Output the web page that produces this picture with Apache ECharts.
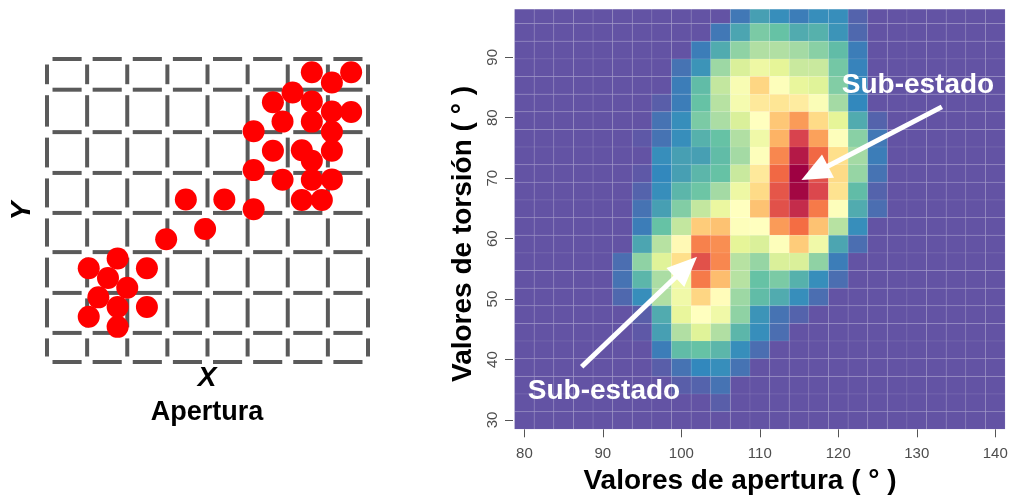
<!DOCTYPE html>
<html><head><meta charset="utf-8">
<script src="https://cdn.jsdelivr.net/npm/echarts@6/dist/echarts.min.js"></script>
<style>html,body{margin:0;padding:0;background:#fff}#c{width:1011px;height:500px}</style>
</head><body><div id="c"></div>
<script>
// ---------- Left panel: schematic scatter ----------
const dotX = [6.60,7.58,7.10,6.12,5.63,6.60,7.58,7.10,5.87,6.60,7.10,5.15,5.63,6.35,7.10,6.60,5.15,5.87,6.60,7.10,6.35,6.85,3.46,4.42,5.15,
              3.94,2.97,1.76,1.04,2.49,1.52,2.00,1.28,1.76,2.49,1.04,1.76];
const dotY = [7.17,7.17,6.92,6.67,6.43,6.45,6.19,6.20,5.95,5.95,5.70,5.71,5.23,5.24,5.23,4.98,4.75,4.51,4.51,4.52,4.01,4.01,4.02,4.02,3.78,
              3.29,3.04,2.56,2.32,2.32,2.08,1.84,1.60,1.36,1.36,1.12,0.87];
const gridXs = [0,1,2,3,4,5,6,7,8];
const gridYs = [0,0.72,1.71,2.72,3.69,4.68,5.69,6.74,7.5];

// ---------- Right panel: 2D histogram (apertura x torsión) ----------
const xBinStart = 78.75, xBinWidth = 2.5;
const yBinStart = 28.46, yBinHeight = 2.918;
const xTicks = [80,90,100,110,120,130,140];
const yTicks = [30,40,50,60,70,80,90];
// rows listed from top (highest torsión) to bottom; 25 columns each
const heatRows = [
 [0,0,0,0,0, 0,0,0,0,0,0,0.7,1.4,1.1,0.8,1.1,1.1,0.3,0, 0,0,0,0,0,0],
 [0,0,0,0,0, 0,0,0,0,0,0.7,1.5,2.3,2.0,1.6,1.7,1.2,0.4,0, 0,0,0,0,0,0],
 [0,0,0,0,0, 0,0,0,0,0.8,1.6,2.6,3.1,3.1,2.9,2.5,1.9,0.8,0, 0,0,0,0,0,0],
 [0,0,0,0,0, 0,0,0,0.6,1.2,2.8,3.8,4.3,4.0,3.5,3.5,2.2,0.9,0, 0,0,0,0,0,0],
 [0,0,0,0,0, 0,0,0,0.8,1.9,3.4,4.7,6.2,4.9,4.1,3.9,2.4,1.0,0, 0,0,0,0,0,0],
 [0,0,0,0,0, 0,0,0.2,0.8,2.0,3.2,4.6,5.7,5.8,5.6,4.8,2.9,1.0,0, 0,0,0,0,0,0],
 [0,0,0,0,0, 0,0,0.6,1.1,2.3,3.0,3.8,5.0,6.5,7.3,6.1,4.0,1.6,0.3, 0,0,0,0,0,0],
 [0,0,0,0,0, 0,0.1,0.6,1.1,1.7,2.0,3.1,4.4,6.9,8.9,7.2,4.9,2.5,0.7, 0,0,0,0,0,0],
 [0,0,0,0,0, 0,0,1.1,1.4,1.4,1.9,2.9,4.9,7.6,9.6,8.1,6.0,2.9,0.8, 0,0,0,0,0,0],
 [0,0,0,0,0, 0,0.1,1.0,1.4,1.8,2.0,3.5,5.7,8.1,10,8.6,6.1,2.7,0.6, 0,0,0,0,0,0],
 [0,0,0,0,0, 0,0.3,1.1,1.8,2.1,2.9,4.3,6.1,8.5,9.9,8.8,5.9,1.9,0.3, 0,0,0,0,0,0],
 [0,0,0,0,0, 0,0.6,1.4,2.4,3.4,4.2,5.0,6.6,8.6,9.3,7.8,4.9,1.6,0.5, 0,0,0,0,0,0],
 [0,0,0,0,0, 0,0.8,2.0,3.4,6.4,6.6,4.9,5.0,7.3,8.0,6.6,3.2,1.1,0, 0,0,0,0,0,0],
 [0,0,0,0,0, 0,1.5,3.2,5.2,7.7,7.5,4.0,3.8,4.9,6.4,4.4,1.5,0.5,0, 0,0,0,0,0,0],
 [0,0,0,0,0, 0.5,2.6,3.9,6.0,8.6,7.6,3.2,2.7,3.8,3.8,2.6,0.8,0,0, 0,0,0,0,0,0],
 [0,0,0,0,0, 0.6,1.8,3.0,4.4,7.8,6.7,3.2,2.0,2.3,1.7,1.1,0.5,0,0, 0,0,0,0,0,0],
 [0,0,0,0,0, 0.4,1.1,3.1,4.4,6.2,5.1,2.8,1.9,1.6,1.1,0.5,0,0,0, 0,0,0,0,0,0],
 [0,0,0,0,0, 0,0.2,1.6,4.1,5.0,4.4,2.6,1.2,0.6,0.3,0,0,0,0, 0,0,0,0,0,0],
 [0,0,0,0,0, 0,0.1,1.4,3.1,3.9,3.1,1.8,1.1,0.5,0,0,0,0,0, 0,0,0,0,0,0],
 [0,0,0,0,0, 0,0,0.8,1.9,2.0,1.8,1.1,0.5,0,0,0,0,0,0, 0,0,0,0,0,0],
 [0,0,0,0,0, 0,0,0.2,0.6,1.0,1.1,0.6,0,0,0,0,0,0,0, 0,0,0,0,0,0],
 [0,0,0,0,0, 0,0,0,0.2,0.3,0.6,0,0,0,0,0,0,0,0, 0,0,0,0,0,0],
 [0,0,0,0,0, 0,0,0,0,0,0.2,0,0,0,0,0,0,0,0, 0,0,0,0,0,0],
 [0,0,0,0,0, 0,0,0,0,0,0,0,0,0,0,0,0,0,0, 0,0,0,0,0,0]
];
// annotation arrows: [fromX, fromY, toX, toY] in data units
const arrowsData = [[133.2, 81.8, 115.3, 69.7], [87.3, 38.8, 102.0, 57.0]];

const spectral = ['#6353a4','#3288BD','#66C2A5','#ABDDA4','#E6F598','#FFFFBF','#FEE08B','#FDAE61','#F46D43','#D53E4F','#9E0142'];
const FONT = '"Liberation Sans", Arial, Helvetica, sans-serif';

const heatData = [];
heatRows.forEach((row, i) => {
  const r = heatRows.length - 1 - i;
  row.forEach((v, c) => heatData.push([xBinStart + c * xBinWidth, yBinStart + r * yBinHeight, v]));
});
const segs = [];
gridXs.forEach(x => { for (let k = 0; k < gridYs.length - 1; k++) segs.push([x, gridYs[k], x, gridYs[k + 1]]); });
gridYs.forEach(y => { for (let k = 0; k < gridXs.length - 1; k++) segs.push([gridXs[k], y, gridXs[k + 1], y]); });

const chart = echarts.init(document.getElementById('c'), null, {renderer: 'canvas'});
chart.setOption({
  animation: false,
  backgroundColor: '#ffffff',
  grid: [
    {left: 47, top: 59, width: 321, height: 303},
    {left: 513, top: 9.3, width: 493, height: 420}
  ],
  xAxis: [
    {gridIndex: 0, type: 'value', min: 0, max: 8, show: false},
    {gridIndex: 1, type: 'value', min: 78.55, max: 141.37,
     axisLine: {show: false}, splitLine: {show: false},
     axisTick: {show: true, length: 8, customValues: xTicks, lineStyle: {color: '#555', width: 1}},
     axisLabel: {customValues: xTicks, fontSize: 15, color: '#4d4d4d', margin: 17, fontFamily: FONT}}
  ],
  yAxis: [
    {gridIndex: 0, type: 'value', min: 0, max: 7.5, show: false},
    {gridIndex: 1, type: 'value', min: 28.46, max: 97.94,
     axisLine: {show: false}, splitLine: {show: false},
     axisTick: {show: true, length: 8, customValues: yTicks, lineStyle: {color: '#555', width: 1}},
     axisLabel: {customValues: yTicks, rotate: 90, fontSize: 15, color: '#4d4d4d', margin: 13, fontFamily: FONT}}
  ],
  visualMap: {show: false, type: 'continuous', min: 0, max: 10, dimension: 2, seriesIndex: 0, inRange: {color: spectral}},
  series: [
    {type: 'custom', xAxisIndex: 1, yAxisIndex: 1, clip: true, data: heatData, z: 2,
     renderItem(params, api) {
       const x0 = api.value(0), y0 = api.value(1);
       const p0 = api.coord([x0, y0 + yBinHeight]);
       const p1 = api.coord([x0 + xBinWidth, y0]);
       return {type: 'rect', shape: {x: p0[0], y: p0[1], width: p1[0] - p0[0], height: p1[1] - p0[1]},
               style: {fill: api.visual('color'), stroke: 'rgba(255,255,255,0.08)', lineWidth: 1}};
     }},
    {type: 'custom', xAxisIndex: 1, yAxisIndex: 1, data: arrowsData, z: 5, silent: true,
     renderItem(params, api) {
       const a = api.coord([api.value(0), api.value(1)]);
       const b = api.coord([api.value(2), api.value(3)]);
       const dx = b[0] - a[0], dy = b[1] - a[1], L = Math.hypot(dx, dy), ux = dx / L, uy = dy / L;
       const hl = 30, hw = 13;
       const base = [b[0] - ux * hl, b[1] - uy * hl];
       return {type: 'group', children: [
         {type: 'line', shape: {x1: a[0], y1: a[1], x2: base[0] + ux * 3, y2: base[1] + uy * 3}, style: {stroke: '#ffffff', lineWidth: 5}},
         {type: 'polygon', shape: {points: [b, [base[0] - uy * hw, base[1] + ux * hw], [base[0] + uy * hw, base[1] - ux * hw]]}, style: {fill: '#ffffff'}}
       ]};
     }},
    {type: 'custom', xAxisIndex: 0, yAxisIndex: 0, data: segs, z: 2, silent: true,
     renderItem(params, api) {
       const a = api.coord([api.value(0), api.value(1)]);
       const b = api.coord([api.value(2), api.value(3)]);
       const dx = b[0] - a[0], dy = b[1] - a[1], L = Math.hypot(dx, dy), ux = dx / L, uy = dy / L;
       const g = 5.5;
       return {type: 'line', shape: {x1: a[0] + ux * g, y1: a[1] + uy * g, x2: b[0] - ux * g, y2: b[1] - uy * g},
               style: {stroke: '#5a5a5a', lineWidth: 4}};
     }},
    {type: 'scatter', xAxisIndex: 0, yAxisIndex: 0, z: 4, symbol: 'circle', symbolSize: 22,
     itemStyle: {color: '#ff0000', opacity: 1},
     data: dotX.map((x, i) => [x, dotY[i]])}
  ],
  graphic: [
    {type: 'text', x: 22, y: 211, rotation: Math.PI / 2,
     style: {text: 'Y', fontSize: 28, fontWeight: 'bold', fontStyle: 'italic', fontFamily: FONT, fill: '#000', textAlign: 'center', textVerticalAlign: 'middle'}},
    {type: 'text', x: 207, y: 378,
     style: {text: 'X', fontSize: 28, fontWeight: 'bold', fontStyle: 'italic', fontFamily: FONT, fill: '#000', textAlign: 'center', textVerticalAlign: 'middle'}},
    {type: 'text', x: 207, y: 413,
     style: {text: 'Apertura', fontSize: 27, fontWeight: 'bold', fontFamily: FONT, fill: '#000', textAlign: 'center', textVerticalAlign: 'middle'}},
    {type: 'text', x: 740, y: 481,
     style: {text: 'Valores de apertura ( ° )', fontSize: 28, fontWeight: 'bold', fontFamily: FONT, fill: '#000', textAlign: 'center', textVerticalAlign: 'middle'}},
    {type: 'text', x: 463, y: 234, rotation: Math.PI / 2,
     style: {text: 'Valores de torsión ( ° )', fontSize: 28, fontWeight: 'bold', fontFamily: FONT, fill: '#000', textAlign: 'center', textVerticalAlign: 'middle'}},
    {type: 'text', x: 918, y: 85, z: 10,
     style: {text: 'Sub-estado', fontSize: 28, fontWeight: 'bold', fontFamily: FONT, fill: '#ffffff', textAlign: 'center', textVerticalAlign: 'middle'}},
    {type: 'text', x: 604, y: 391, z: 10,
     style: {text: 'Sub-estado', fontSize: 28, fontWeight: 'bold', fontFamily: FONT, fill: '#ffffff', textAlign: 'center', textVerticalAlign: 'middle'}}
  ]
});
</script>
</body></html>
